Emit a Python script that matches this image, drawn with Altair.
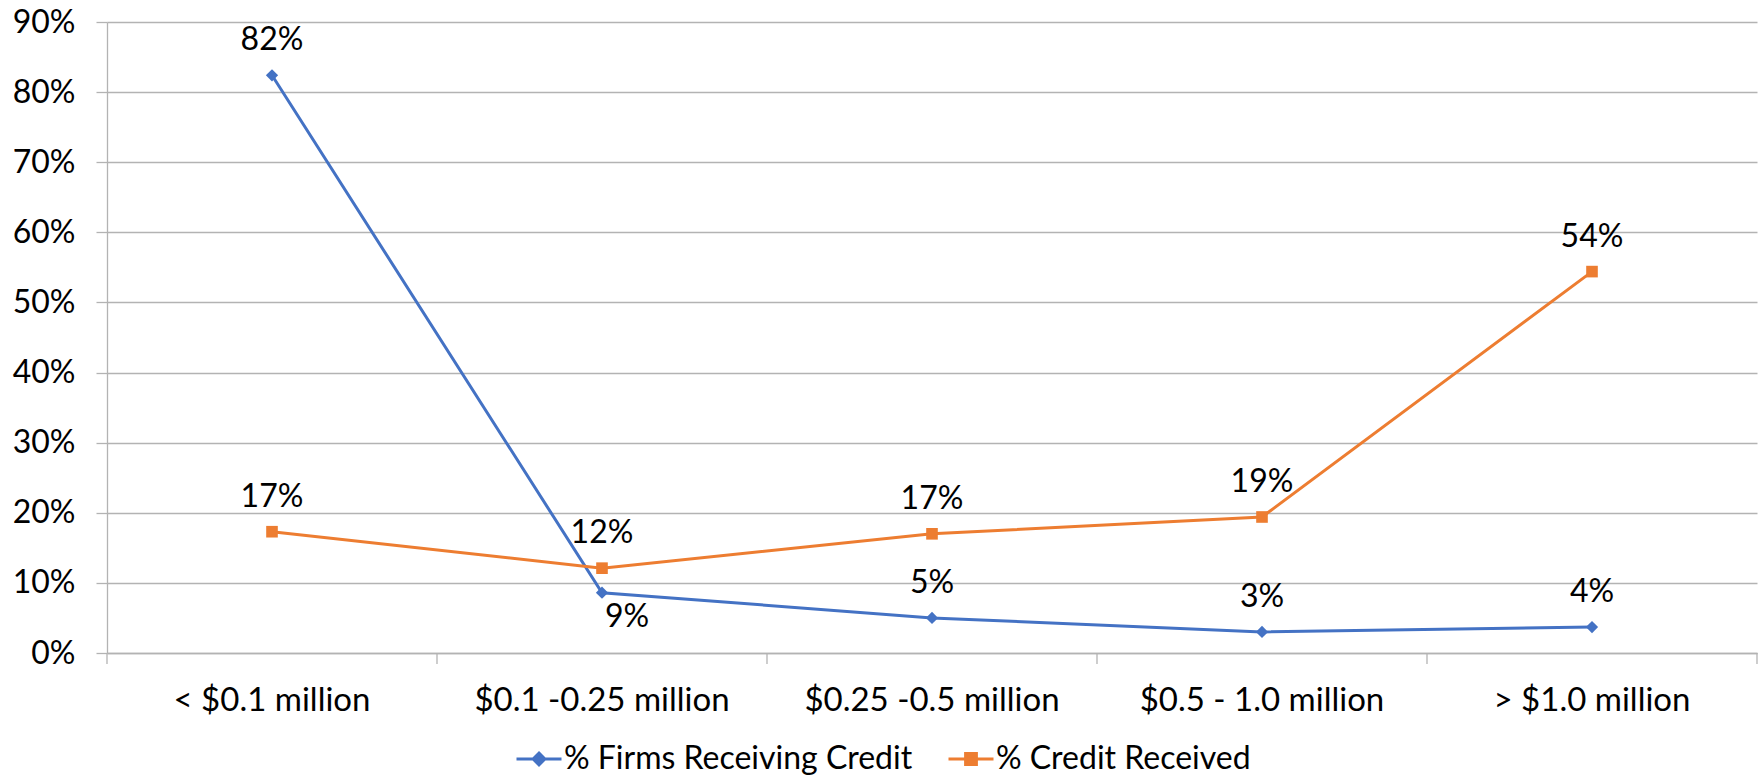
import altair as alt
import pandas as pd

categories = ["< $0.1 million", "$0.1 -0.25 million", "$0.25 -0.5 million",
              "$0.5 - 1.0 million", "> $1.0 million"]
series_names = ["% Firms Receiving Credit", "% Credit Received"]
firms_pct = [0.824, 0.086, 0.050, 0.030, 0.037]
credit_pct = [0.173, 0.121, 0.170, 0.194, 0.544]
y_ticks = [0.0, 0.1, 0.2, 0.3, 0.4, 0.5, 0.6, 0.7, 0.8, 0.9]
colors = ["#4472C4", "#ED7D31"]
legend_shapes = ["M-1,0L1,0M0,-0.26L0.26,0L0,0.26L-0.26,0Z",
                 "M-1,0L1,0M-0.24,-0.24L0.24,-0.24L0.24,0.24L-0.24,0.24Z"]

rows = []
for i, c in enumerate(categories):
    rows.append({"cat": c, "series": series_names[0], "v": firms_pct[i], "order": i})
for i, c in enumerate(categories):
    rows.append({"cat": c, "series": series_names[1], "v": credit_pct[i], "order": i})
df = pd.DataFrame(rows)
ticks_df = pd.DataFrame({"cat": categories})

FONT = "Lato"
GRID = "#b3b3b3"

x_scale = alt.Scale(domain=categories, paddingInner=0, paddingOuter=0)
x_enc = alt.X("cat:N", sort=categories, scale=x_scale,
              axis=alt.Axis(title=None, ticks=False, domain=True, domainColor=GRID,
                            domainWidth=1.3, labelFont=FONT, labelFontSize=33,
                            labelColor="#000000", labelPadding=57, labelAlign="center",
                            labelLimit=500, labelBaseline="alphabetic", grid=False,
                            labelAngle=0))
y_enc = alt.Y("v:Q", scale=alt.Scale(domain=[0, 0.9], nice=False, zero=True),
              axis=alt.Axis(title=None, values=y_ticks, format=".0%", grid=True,
                            gridColor=GRID, gridWidth=1.3, tickColor=GRID, tickSize=11,
                            tickWidth=1.3, domain=True, domainColor=GRID, domainWidth=1.3,
                            labelFont=FONT, labelFontSize=32, labelColor="#000000",
                            labelPadding=21))

color_scale = alt.Scale(domain=series_names, range=colors)
color_nolegend = alt.Color("series:N", scale=color_scale, legend=None)

leg = alt.Legend(title=None, orient="none", legendX=408, legendY=713,
                 direction="horizontal", labelFont=FONT, labelFontSize=32,
                 labelColor="#000000", labelOffset=1, columnPadding=29,
                 symbolSize=2025, symbolStrokeWidth=3, labelLimit=600)

base = alt.Chart(df)

lines = base.mark_line(strokeWidth=3).encode(
    x=x_enc, y=y_enc, order="order:Q",
    color=alt.Color("series:N", scale=color_scale, legend=leg),
    shape=alt.Shape("series:N", scale=alt.Scale(domain=series_names, range=legend_shapes),
                    legend=leg))

pts_blue = base.transform_filter(alt.datum.series == series_names[0]).mark_point(
    shape="diamond", filled=True, size=150, opacity=1).encode(
    x=x_enc, y=y_enc, color=color_nolegend)
pts_orange = base.transform_filter(alt.datum.series == series_names[1]).mark_point(
    shape="square", filled=True, size=135, opacity=1).encode(
    x=x_enc, y=y_enc, color=color_nolegend)

below = (alt.datum.series == series_names[0]) & (alt.datum.cat == categories[1])

labels_above = base.transform_filter(~below).mark_text(
    font=FONT, fontSize=32, color="#000000", baseline="alphabetic", dy=-25).encode(
    x=x_enc, y=y_enc, text=alt.Text("v:Q", format=".0%"))
labels_below = base.transform_filter(below).mark_text(
    font=FONT, fontSize=32, color="#000000", baseline="alphabetic", dy=34, dx=25).encode(
    x=x_enc, y=y_enc, text=alt.Text("v:Q", format=".0%"))

tick_rules = alt.Chart(ticks_df).mark_rule(color=GRID, strokeWidth=1.3).encode(
    x=alt.X("cat:N", sort=categories, bandPosition=0, scale=x_scale),
    y=alt.value(631), y2=alt.value(642))
tick_last = alt.Chart(ticks_df).transform_filter(alt.datum.cat == categories[-1]).mark_rule(
    color=GRID, strokeWidth=1.3).encode(
    x=alt.X("cat:N", sort=categories, bandPosition=1, scale=x_scale),
    y=alt.value(631), y2=alt.value(642))

chart = alt.layer(tick_rules, tick_last, lines, pts_blue, pts_orange,
                  labels_above, labels_below).properties(
    width=1650, height=631,
    autosize=alt.AutoSizeParams(type="none"),
    padding={"left": 107, "top": 22, "right": 2, "bottom": 126},
    background="#ffffff"
).configure_view(stroke=None)

chart.save("out.html", embed_options={"renderer": "svg", "actions": False})
